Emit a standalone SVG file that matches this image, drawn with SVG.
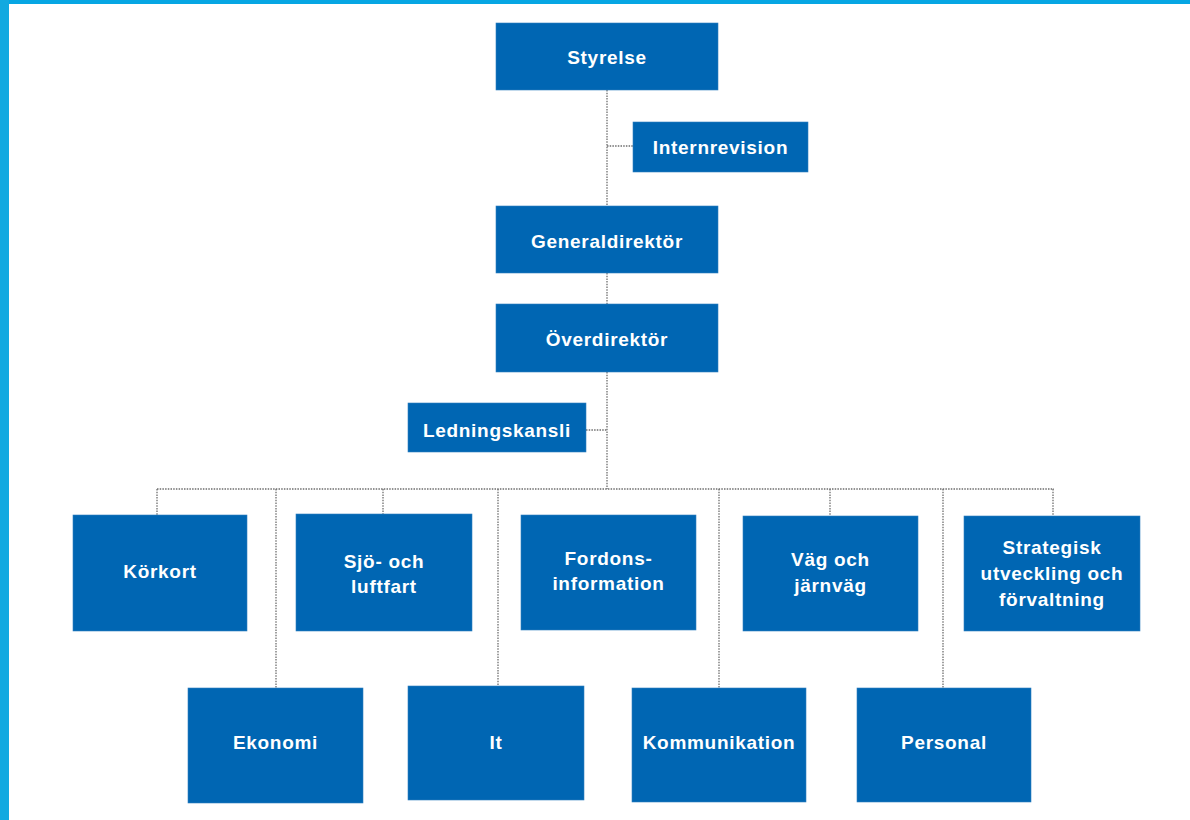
<svg xmlns="http://www.w3.org/2000/svg" width="1190" height="820" viewBox="0 0 1190 820">
<style>
.box{fill:#0066B3;stroke:#2F7FC0;stroke-width:0.6}
.t{fill:#FFFFFF;font-family:"Liberation Sans",Arial,sans-serif;font-weight:bold;font-size:19px;letter-spacing:0.7px;text-anchor:middle}
.c{fill:none;stroke:#6E6E6E;stroke-width:1.3;stroke-dasharray:1.5 1.2}
</style>
<rect x="0" y="0" width="1190" height="820" fill="#FFFFFF"/>
<rect x="0" y="0" width="1190" height="4" fill="#06A6E3"/>
<rect x="0" y="0" width="9" height="820" fill="#12A9E0"/>
<g id="connectors">
<path class="c" d="M607 90V206M607 273V304M607 372V489"/>
<path class="c" d="M607 146H633"/>
<path class="c" d="M586 430H607"/>
<path class="c" d="M157 489H1054"/>
<path class="c" d="M157 489V515M276 489V688M383 489V514M498 489V686M719 489V688M830 489V516M943 489V688M1053 489V516"/>
</g>
<g id="styrelse"><rect class="box" x="496" y="23" width="222" height="67"/><text class="t" x="607" y="64">Styrelse</text></g>
<g id="internrevision"><rect class="box" x="633" y="122" width="175" height="50"/><text class="t" x="720.5" y="154">Internrevision</text></g>
<g id="generaldirektor"><rect class="box" x="496" y="206" width="222" height="67"/><text class="t" x="607" y="248">Generaldirektör</text></g>
<g id="overdirektor"><rect class="box" x="496" y="304" width="222" height="68"/><text class="t" x="607" y="346">Överdirektör</text></g>
<g id="ledningskansli"><rect class="box" x="408" y="403" width="178" height="49"/><text class="t" x="497" y="437">Ledningskansli</text></g>
<g id="korkort"><rect class="box" x="73" y="515" width="174" height="116"/><text class="t" x="160" y="578">Körkort</text></g>
<g id="sjo-och-luftfart"><rect class="box" x="296" y="514" width="176" height="117"/><text class="t" x="384" y="568">Sjö- och</text><text class="t" x="384" y="593">luftfart</text></g>
<g id="fordonsinformation"><rect class="box" x="521" y="515" width="175" height="115"/><text class="t" x="608.5" y="565">Fordons-</text><text class="t" x="608.5" y="590">information</text></g>
<g id="vag-och-jarnvag"><rect class="box" x="743" y="516" width="175" height="115"/><text class="t" x="830.5" y="566">Väg och</text><text class="t" x="830.5" y="592">järnväg</text></g>
<g id="strategisk"><rect class="box" x="964" y="516" width="176" height="115"/><text class="t" x="1052" y="554">Strategisk</text><text class="t" x="1052" y="580">utveckling och</text><text class="t" x="1052" y="606">förvaltning</text></g>
<g id="ekonomi"><rect class="box" x="188" y="688" width="175" height="115"/><text class="t" x="275.5" y="749">Ekonomi</text></g>
<g id="it"><rect class="box" x="408" y="686" width="176" height="114"/><text class="t" x="496" y="749">It</text></g>
<g id="kommunikation"><rect class="box" x="632" y="688" width="174" height="114"/><text class="t" x="719" y="749">Kommunikation</text></g>
<g id="personal"><rect class="box" x="857" y="688" width="174" height="114"/><text class="t" x="944" y="749">Personal</text></g>
</svg>
